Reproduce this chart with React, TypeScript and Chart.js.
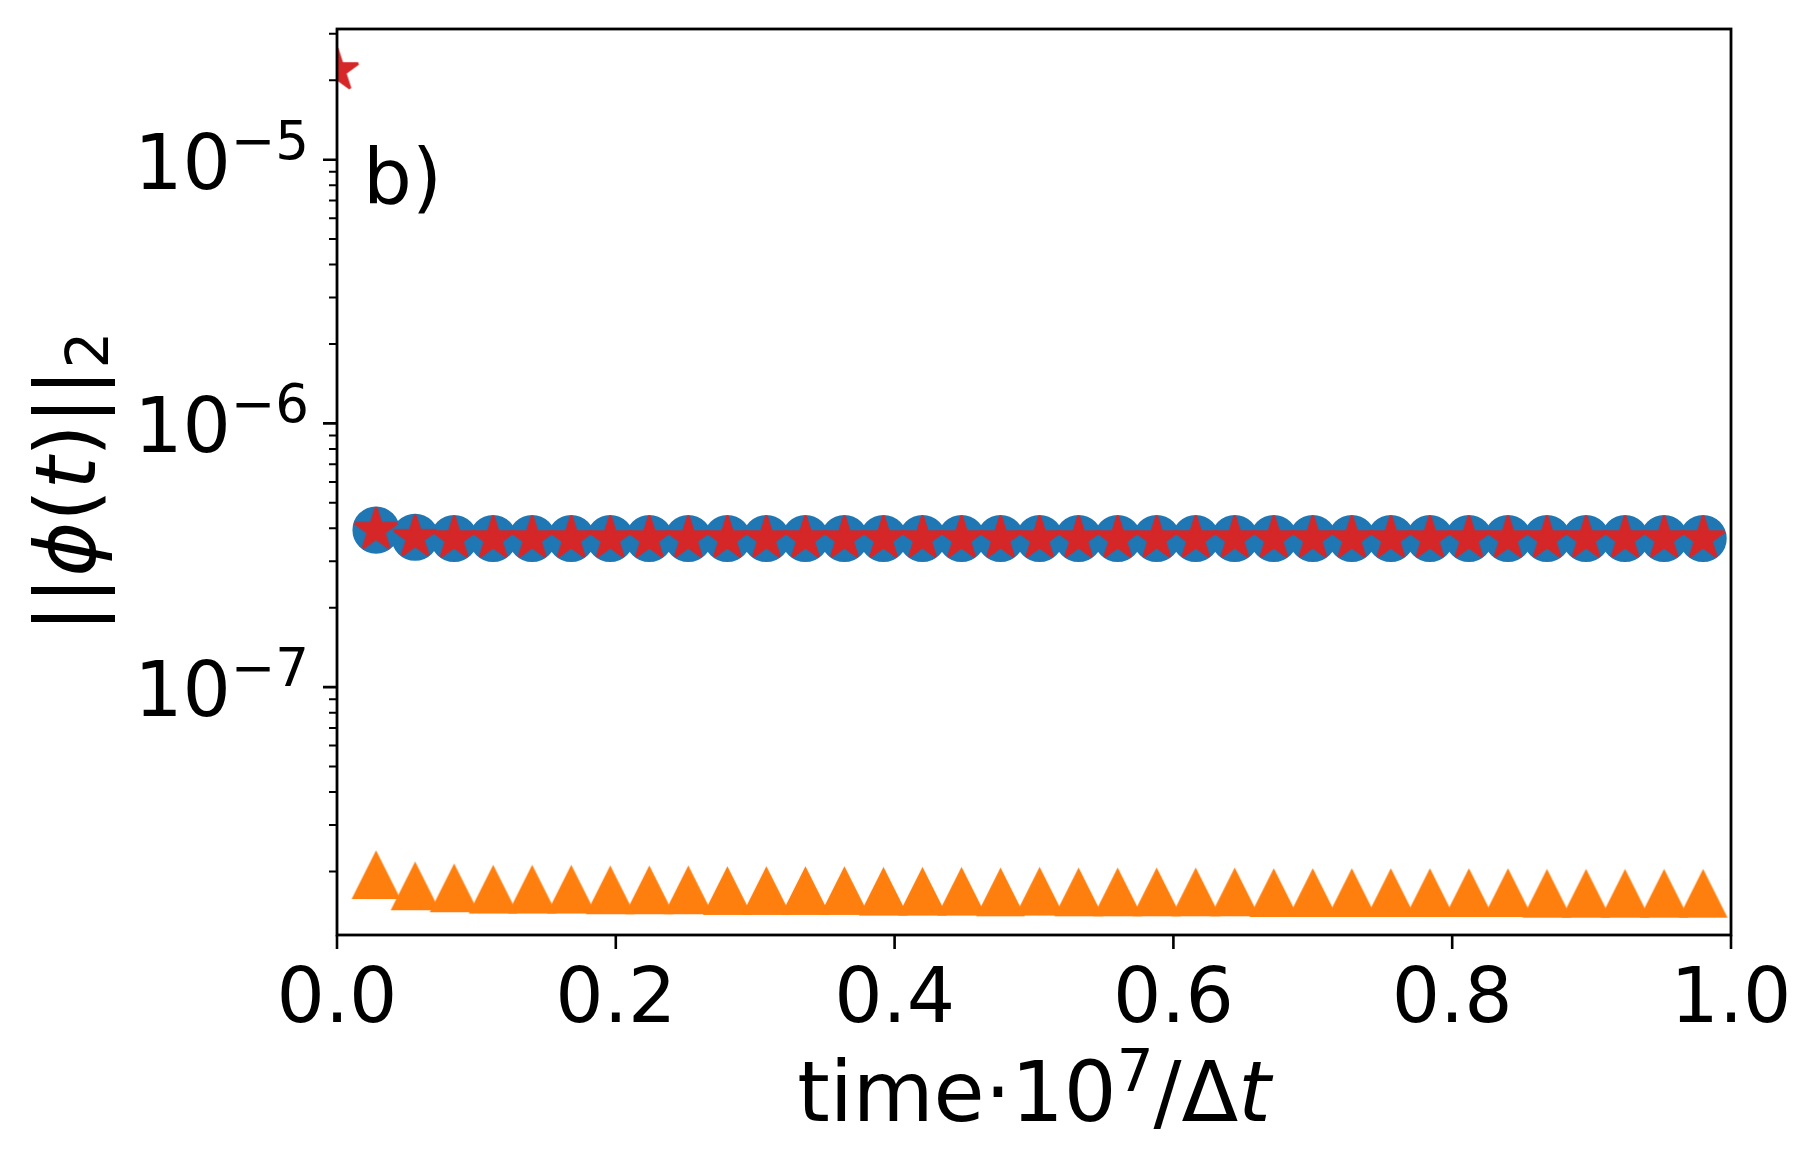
import React, { useEffect, useRef } from "react";
import { Chart, registerables } from "chart.js";

Chart.register(...registerables);

// ---- data ----
const timeSteps = [
  0.028, 0.056, 0.084, 0.112, 0.14, 0.168, 0.196, 0.224, 0.252, 0.28,
  0.308, 0.336, 0.364, 0.392, 0.42, 0.448, 0.476, 0.504, 0.532, 0.56,
  0.588, 0.616, 0.644, 0.672, 0.7, 0.728, 0.756, 0.784, 0.812, 0.84,
  0.868, 0.896, 0.924, 0.952, 0.98,
];
const blueValues = [
  3.94e-7, 3.7e-7, 3.66e-7, 3.66e-7, 3.66e-7, 3.66e-7, 3.66e-7, 3.66e-7, 3.66e-7, 3.66e-7,
  3.66e-7, 3.66e-7, 3.66e-7, 3.66e-7, 3.66e-7, 3.66e-7, 3.66e-7, 3.66e-7, 3.66e-7, 3.66e-7,
  3.66e-7, 3.66e-7, 3.66e-7, 3.66e-7, 3.66e-7, 3.66e-7, 3.66e-7, 3.66e-7, 3.66e-7, 3.66e-7,
  3.66e-7, 3.66e-7, 3.66e-7, 3.66e-7, 3.66e-7,
];
const orangeValues = [
  1.93e-8, 1.75e-8, 1.72e-8, 1.7e-8, 1.7e-8, 1.7e-8, 1.69e-8, 1.69e-8, 1.69e-8, 1.68e-8,
  1.68e-8, 1.68e-8, 1.68e-8, 1.67e-8, 1.67e-8, 1.67e-8, 1.66e-8, 1.67e-8, 1.66e-8, 1.66e-8,
  1.66e-8, 1.66e-8, 1.66e-8, 1.65e-8, 1.65e-8, 1.65e-8, 1.65e-8, 1.65e-8, 1.65e-8, 1.65e-8,
  1.64e-8, 1.64e-8, 1.64e-8, 1.64e-8, 1.64e-8,
];
const redTimes = [
  0, 0.028, 0.056, 0.084, 0.112, 0.14, 0.168, 0.196, 0.224, 0.252, 0.28,
  0.308, 0.336, 0.364, 0.392, 0.42, 0.448, 0.476, 0.504, 0.532, 0.56,
  0.588, 0.616, 0.644, 0.672, 0.7, 0.728, 0.756, 0.784, 0.812, 0.84,
  0.868, 0.896, 0.924, 0.952, 0.98,
];
const redValues = [
  2.18e-5, 3.94e-7, 3.7e-7, 3.66e-7, 3.66e-7, 3.66e-7, 3.66e-7, 3.66e-7, 3.66e-7, 3.66e-7, 3.66e-7,
  3.66e-7, 3.66e-7, 3.66e-7, 3.66e-7, 3.66e-7, 3.66e-7, 3.66e-7, 3.66e-7, 3.66e-7, 3.66e-7,
  3.66e-7, 3.66e-7, 3.66e-7, 3.66e-7, 3.66e-7, 3.66e-7, 3.66e-7, 3.66e-7, 3.66e-7, 3.66e-7,
  3.66e-7, 3.66e-7, 3.66e-7, 3.66e-7, 3.66e-7,
];
const xTickValues = [0, 0.2, 0.4, 0.6, 0.8, 1.0];
const xTickLabels = ["0.0", "0.2", "0.4", "0.6", "0.8", "1.0"];
const yMajorExponents = [-5, -6, -7];
const yMinorMantissas = [2, 3, 4, 5, 6, 7, 8, 9];
const yMinorExponents = [-8, -7, -6, -5];
const xMin = 0;
const xMax = 1;
const yMin = 1.148e-8;
const yMax = 3.13e-5;
const panelLabel = "b)";

// ---- styles ----
const W = 1820;
const H = 1171;
const FONT = '"DejaVu Sans"';
const BLUE = "#1f77b4";
const ORANGE = "#ff7f0e";
const RED = "#d62728";
const AREA = { left: 337, right: 1731, top: 29, bottom: 935 };
const MARKER = 44.4; // marker size in px
const EDGE = 2.8; // marker edge width in px

function makeStar(R: number, color: string): HTMLCanvasElement {
  const size = Math.ceil(2 * R) + 12;
  const c = document.createElement("canvas");
  c.width = size;
  c.height = size;
  const g = c.getContext("2d")!;
  g.fillStyle = color;
  g.strokeStyle = color;
  g.lineWidth = EDGE;
  g.lineJoin = "bevel";
  g.beginPath();
  for (let i = 0; i < 10; i++) {
    const r = i % 2 === 0 ? R : R * 0.381966;
    const a = -Math.PI / 2 + (i * Math.PI) / 5;
    const px = size / 2 + r * Math.cos(a);
    const py = size / 2 + r * Math.sin(a);
    if (i === 0) g.moveTo(px, py);
    else g.lineTo(px, py);
  }
  g.closePath();
  g.fill();
  g.stroke();
  return c;
}

function makeTriangle(h: number, color: string): HTMLCanvasElement {
  const size = Math.ceil(h) + 14;
  const c = document.createElement("canvas");
  c.width = size;
  c.height = size;
  const g = c.getContext("2d")!;
  const m = size / 2;
  g.fillStyle = color;
  g.strokeStyle = color;
  g.lineWidth = EDGE;
  g.lineJoin = "miter";
  g.beginPath();
  g.moveTo(m, m - h / 2);
  g.lineTo(m + h / 2, m + h / 2);
  g.lineTo(m - h / 2, m + h / 2);
  g.closePath();
  g.fill();
  g.stroke();
  return c;
}

type Piece = { text: string; size: number; italic?: boolean; dy?: number };

function drawPieces(ctx: CanvasRenderingContext2D, pieces: Piece[], x0: number, y0: number, align: "left" | "center" | "right") {
  const widths = pieces.map((p) => {
    ctx.font = `${p.italic ? "italic " : ""}${p.size}px ${FONT}`;
    return ctx.measureText(p.text).width;
  });
  const total = widths.reduce((a, b) => a + b, 0);
  let x = align === "left" ? x0 : align === "center" ? x0 - total / 2 : x0 - total;
  ctx.textAlign = "left";
  ctx.textBaseline = "alphabetic";
  pieces.forEach((p, i) => {
    ctx.font = `${p.italic ? "italic " : ""}${p.size}px ${FONT}`;
    ctx.fillText(p.text, x, y0 + (p.dy || 0));
    x += widths[i];
  });
}

const decorPlugin = {
  id: "decor",
  afterDraw(chart: any) {
    const ctx: CanvasRenderingContext2D = chart.ctx;
    const xs = chart.scales.x;
    const ys = chart.scales.y;
    const a = chart.chartArea;
    ctx.save();
    ctx.strokeStyle = "#000";
    ctx.fillStyle = "#000";

    // ticks
    ctx.lineWidth = 2.6;
    ctx.beginPath();
    xTickValues.forEach((v) => {
      const px = xs.getPixelForValue(v);
      ctx.moveTo(px, a.bottom);
      ctx.lineTo(px, a.bottom + 14);
    });
    yMajorExponents.forEach((e) => {
      const py = ys.getPixelForValue(Math.pow(10, e));
      ctx.moveTo(a.left, py);
      ctx.lineTo(a.left - 14, py);
    });
    ctx.stroke();
    ctx.lineWidth = 2.0;
    ctx.beginPath();
    yMinorExponents.forEach((e) => {
      yMinorMantissas.forEach((m) => {
        const v = m * Math.pow(10, e);
        if (v < yMin || v > yMax) return;
        const py = ys.getPixelForValue(v);
        ctx.moveTo(a.left, py);
        ctx.lineTo(a.left - 8, py);
      });
    });
    ctx.stroke();

    // spines
    ctx.lineWidth = 2.8;
    ctx.strokeRect(a.left, a.top, a.right - a.left, a.bottom - a.top);

    // x tick labels
    ctx.font = `76px ${FONT}`;
    ctx.textAlign = "center";
    ctx.textBaseline = "alphabetic";
    xTickValues.forEach((v, i) => {
      ctx.fillText(xTickLabels[i], xs.getPixelForValue(v), 1022);
    });

    // y tick labels 10^{e}
    yMajorExponents.forEach((e) => {
      const py = ys.getPixelForValue(Math.pow(10, e));
      drawPieces(
        ctx,
        [
          { text: "10", size: 76 },
          { text: "\u2212" + String(-e), size: 53, dy: -30 },
        ],
        309,
        py + 29,
        "right"
      );
    });

    // x axis label
    drawPieces(
      ctx,
      [
        { text: "time\u00b710", size: 83 },
        { text: "7", size: 58, dy: -30 },
        { text: "/\u0394", size: 83 },
        { text: "t", size: 83, italic: true },
      ],
      (a.left + a.right) / 2,
      1121,
      "center"
    );

    // y axis label (rotated)
    ctx.save();
    ctx.translate(95, (a.top + a.bottom) / 2);
    ctx.rotate(-Math.PI / 2);
    drawPieces(
      ctx,
      [
        { text: "||", size: 83 },
        { text: "\u03d5", size: 83, italic: true },
        { text: "(", size: 83 },
        { text: "t", size: 83, italic: true },
        { text: ")||", size: 83 },
        { text: "2", size: 58, dy: 13 },
      ],
      0,
      0,
      "center"
    );
    ctx.restore();

    // panel label
    ctx.font = `77px ${FONT}`;
    ctx.textAlign = "left";
    ctx.fillText(panelLabel, 363, 203);

    ctx.restore();
  },
};

export default function App() {
  const ref = useRef<HTMLCanvasElement | null>(null);

  useEffect(() => {
    if (!ref.current) return;
    const star = makeStar(MARKER / 2, RED);
    const tri = makeTriangle(MARKER, ORANGE);
    const chart = new Chart(ref.current, {
      type: "scatter",
      data: {
        datasets: [
          {
            label: "red",
            data: redTimes.map((t, i) => ({ x: t, y: redValues[i] })),
            pointStyle: star as any,
            pointRadius: 22,
            backgroundColor: RED,
            borderWidth: 0,
            showLine: false,
            clip: 0,
          } as any,
          {
            label: "orange",
            data: timeSteps.map((t, i) => ({ x: t, y: orangeValues[i] })),
            pointStyle: tri as any,
            pointRadius: 22,
            backgroundColor: ORANGE,
            borderWidth: 0,
            showLine: false,
            clip: 0,
          } as any,
          {
            label: "blue",
            data: timeSteps.map((t, i) => ({ x: t, y: blueValues[i] })),
            pointStyle: "circle",
            pointRadius: MARKER / 2,
            backgroundColor: BLUE,
            borderColor: BLUE,
            borderWidth: EDGE,
            showLine: false,
            clip: 0,
          } as any,
        ],
      },
      options: {
        animation: false,
        responsive: false,
        devicePixelRatio: 1,
        events: [],
        layout: {
          padding: {
            left: AREA.left,
            right: W - AREA.right,
            top: AREA.top,
            bottom: H - AREA.bottom,
          },
        },
        plugins: {
          legend: { display: false },
          tooltip: { enabled: false },
        },
        scales: {
          x: { type: "linear", min: xMin, max: xMax, display: false },
          y: { type: "logarithmic", min: yMin, max: yMax, display: false },
        },
      },
      plugins: [decorPlugin],
    });
    return () => chart.destroy();
  }, []);

  return (
    <div style={{ position: "absolute", left: 0, top: 0, width: W, height: H, background: "#fff" }}>
      <canvas ref={ref} width={W} height={H} style={{ width: W, height: H, display: "block" }} />
    </div>
  );
}
